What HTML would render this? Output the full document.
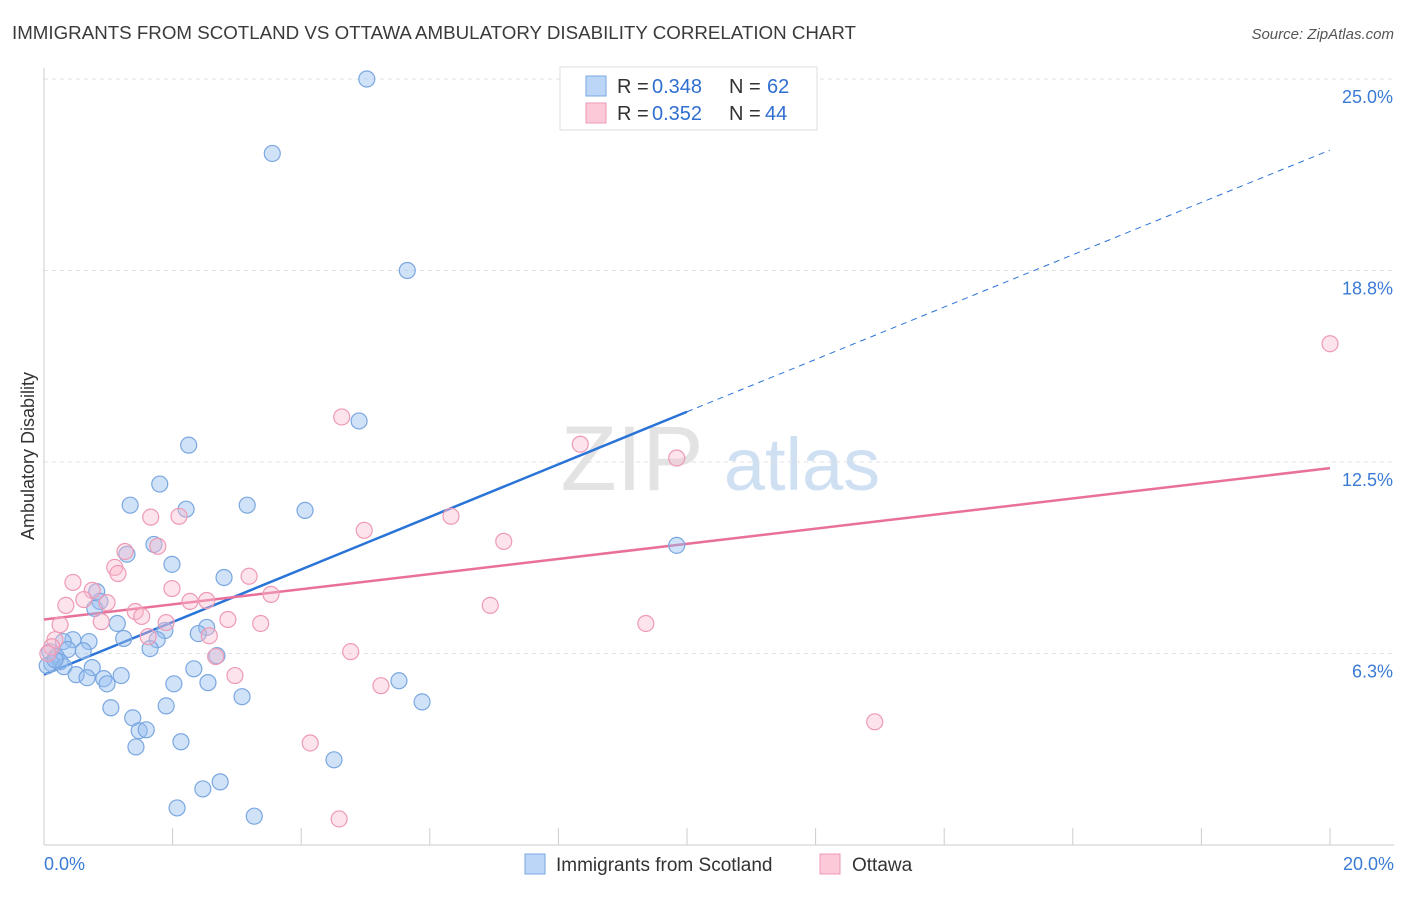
<!DOCTYPE html>
<html><head><meta charset="utf-8"><style>
body{margin:0;background:#fff;font-family:"Liberation Sans",sans-serif;}
svg text{font-family:"Liberation Sans",sans-serif;}
</style></head><body>
<svg id="chart" width="1406" height="892" xmlns="http://www.w3.org/2000/svg">
<text x="12" y="39" font-size="18" fill="#3a3a3a" textLength="844" lengthAdjust="spacingAndGlyphs">IMMIGRANTS FROM SCOTLAND VS OTTAWA AMBULATORY DISABILITY CORRELATION CHART</text>
<text x="1394" y="39" font-size="15" fill="#555" font-style="italic" text-anchor="end">Source: ZipAtlas.com</text>
<text transform="translate(34,456) rotate(-90)" font-size="18" fill="#333" text-anchor="middle">Ambulatory Disability</text>
<g>
<text x="632" y="490" font-size="92" fill="#d8d8d8" font-family="Liberation Serif" text-anchor="middle" opacity="0.7">ZIP</text>
<text x="802" y="490" font-size="74" fill="#bcd3ee" text-anchor="middle" opacity="0.7">atlas</text>
</g>
<g id="grid"></g>
<g id="ticks"></g>
<g id="lines"></g>
<g id="pts"></g>
<g>
<rect x="560" y="67" width="257" height="63" fill="#fff" stroke="#ddd"/>
<rect x="586" y="76" width="20" height="20" fill="#bcd6f7" stroke="#7aa7e0"/>
<rect x="586" y="103" width="20" height="20" fill="#fbc9d8" stroke="#ee9ab4"/>
<text x="617" y="93" font-size="20" fill="#333">R =</text>
<text x="652" y="93" font-size="20" fill="#2f6fd0">0.348</text>
<text x="729" y="93" font-size="20" fill="#333">N =</text>
<text x="767" y="93" font-size="20" fill="#2f6fd0">62</text>
<text x="617" y="120" font-size="20" fill="#333">R =</text>
<text x="652" y="120" font-size="20" fill="#2f6fd0">0.352</text>
<text x="729" y="120" font-size="20" fill="#333">N =</text>
<text x="765" y="120" font-size="20" fill="#2f6fd0">44</text>
</g>
<g>
<rect x="525" y="854" width="20" height="20" fill="#bcd6f7" stroke="#7aa7e0"/>
<text x="556" y="871" font-size="19" fill="#333">Immigrants from Scotland</text>
<rect x="820" y="854" width="20" height="20" fill="#fbc9d8" stroke="#ee9ab4"/>
<text x="852" y="871" font-size="19" fill="#333">Ottawa</text>
</g>
</svg>
<script>
const yTicks=[6.25,12.5,18.75,25];
const yTickLabels=["6.3%","12.5%","18.8%","25.0%"];
const xTicks=[0,2,4,6,8,10,12,14,16,18,20];
const blueX=[5.02,3.55,5.65,4.90,2.25,1.80,1.34,2.21,3.16,4.06,1.71,1.29,1.99,2.80,0.82,0.87,0.79,1.14,1.88,2.53,2.40,1.24,1.76,0.45,0.70,0.30,1.65,0.61,0.37,0.09,0.19,0.25,0.12,0.05,0.31,0.75,0.50,0.67,0.93,0.98,1.20,2.33,2.69,2.02,2.55,3.08,5.52,5.88,1.04,1.90,1.38,1.48,1.59,1.43,2.13,4.51,2.74,2.47,2.07,3.27,9.84,0.17];
const blueY=[25.0,22.57,18.75,13.84,13.05,11.78,11.09,10.96,11.09,10.92,9.81,9.49,9.16,8.73,8.27,7.95,7.72,7.23,7.0,7.10,6.90,6.74,6.70,6.70,6.64,6.64,6.41,6.34,6.38,6.31,6.15,5.98,5.92,5.85,5.82,5.79,5.56,5.46,5.43,5.26,5.53,5.75,6.18,5.26,5.30,4.84,5.36,4.67,4.48,4.54,4.15,3.73,3.76,3.20,3.37,2.78,2.06,1.83,1.21,0.94,9.78,6.05];
const pinkX=[20.0,4.63,8.34,9.84,1.66,2.10,4.98,6.33,7.15,1.26,1.77,1.10,1.15,3.19,1.99,0.45,0.75,0.62,0.34,0.98,2.27,2.53,3.53,1.42,1.52,1.90,2.86,3.37,6.94,9.36,0.25,0.89,1.62,2.57,0.17,0.12,2.67,4.77,2.97,5.24,12.92,4.14,4.59,0.06];
const pinkY=[16.36,13.97,13.08,12.63,10.70,10.73,10.27,10.73,9.91,9.58,9.75,9.06,8.86,8.77,8.37,8.57,8.31,8.01,7.82,7.91,7.95,7.98,8.18,7.62,7.46,7.26,7.36,7.23,7.82,7.23,7.19,7.29,6.80,6.83,6.70,6.47,6.15,6.31,5.53,5.20,4.02,3.33,0.85,6.25];
const blueTrend=[5.56,14.14,22.68];
const pinkTrend=[7.36,12.3];
const NS="http://www.w3.org/2000/svg";
const sx=v=>44+v/20*1286;
const sy=v=>845-v/25*766;
function mk(tag,attrs,parent){const e=document.createElementNS(NS,tag);for(const k in attrs)e.setAttribute(k,attrs[k]);document.getElementById(parent).appendChild(e);return e;}
yTicks.forEach((t,i)=>{
 const g=mk('line',{x1:44,x2:1394,y1:sy(t),y2:sy(t),stroke:'#e2e2e2','stroke-dasharray':'4,4'},'grid');
 
 
 const l=mk('text',{x:1393,y:sy(t)+24,'font-size':18,fill:'#3a7bd5','text-anchor':'end'},'ticks');
 l.textContent=yTickLabels[i];
 
 
});
const ax=mk('line',{x1:44,x2:1394,y1:845,y2:845,stroke:'#ccc'},'ticks');


const ay=mk('line',{x1:44,x2:44,y1:68,y2:845,stroke:'#ccc'},'ticks');


xTicks.forEach(t=>{
 const e=mk('line',{x1:sx(t),x2:sx(t),y1:828,y2:845,stroke:'#ccc'},'ticks');
 
 
});
const xl0=mk('text',{x:44,y:870,'font-size':18,fill:'#3a7bd5'},'ticks');xl0.textContent='0.0%';


const xl1=mk('text',{x:1394,y:870,'font-size':18,fill:'#3a7bd5','text-anchor':'end'},'ticks');xl1.textContent='20.0%';


blueX.forEach((x,i)=>{
 const c=mk('circle',{cx:sx(x),cy:sy(blueY[i]),r:8,fill:'rgba(150,190,240,0.45)',stroke:'#7aa7e0','stroke-width':1.2},'pts');
 
 
});
pinkX.forEach((x,i)=>{
 const c=mk('circle',{cx:sx(x),cy:sy(pinkY[i]),r:8,fill:'rgba(250,185,205,0.4)',stroke:'#ee9ab4','stroke-width':1.2},'pts');
 
 
});
const b1=mk('line',{x1:sx(0),y1:sy(blueTrend[0]),x2:sx(10),y2:sy(blueTrend[1]),stroke:'#2a74d8','stroke-width':2.5},'lines');


const b2=mk('line',{x1:sx(10),y1:sy(blueTrend[1]),x2:sx(20),y2:sy(blueTrend[2]),stroke:'#2a74d8','stroke-width':1,'stroke-dasharray':'6,5'},'lines');


const p1=mk('line',{x1:sx(0),y1:sy(pinkTrend[0]),x2:sx(20),y2:sy(pinkTrend[1]),stroke:'#e8709a','stroke-width':2.5},'lines');


</script>
</body></html>
